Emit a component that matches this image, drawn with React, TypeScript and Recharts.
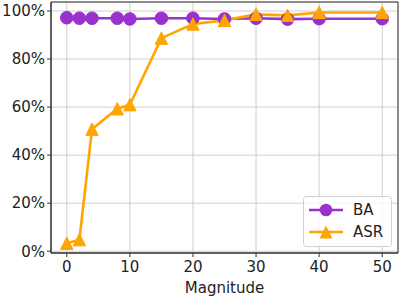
import React from "react";
import { LineChart, Line, XAxis, YAxis, CartesianGrid, ReferenceArea } from "recharts";

const magnitudes = [0, 2, 4, 8, 10, 15, 20, 25, 30, 35, 40, 50];
const baValues = [97.2, 97, 97, 97, 96.7, 97, 97, 96.7, 97, 96.6, 96.8, 96.8];
const asrValues = [3.3, 4.8, 50.8, 59.3, 61, 88.7, 94.6, 96.1, 98.6, 98.2, 99.4, 99.4];
const xTicks = [0, 10, 20, 30, 40, 50];
const yTicks = [0, 20, 40, 60, 80, 100];
const seriesNames = ["BA", "ASR"];

const data = magnitudes.map((m, i) => ({ m, BA: baValues[i], ASR: asrValues[i] }));

const PURPLE = "#9932CC";
const ORANGE = "#FFA500";
const FONT = "DejaVu Sans";

const Triangle = (props: any) => {
  const { cx, cy, key } = props;
  if (cx == null || cy == null) return null;
  const s = 6.2;
  return (
    <polygon
      key={key}
      points={`${cx},${cy - s} ${cx - s},${cy + s} ${cx + s},${cy + s}`}
      fill={ORANGE}
      stroke={ORANGE}
      strokeWidth={1}
    />
  );
};

const Circle = (props: any) => {
  const { cx, cy, key } = props;
  if (cx == null || cy == null) return null;
  return <circle key={key} cx={cx} cy={cy} r={6.3} fill={PURPLE} stroke={PURPLE} strokeWidth={1} />;
};

const LegendBox = () => (
  <svg width={90} height={52} style={{ display: "block" }}>
    <rect x={0.5} y={0.5} width={88} height={50} rx={3} fill="white" fillOpacity={0.8} stroke="#d0d0d0" />
    <line x1={6} y1={14} x2={40} y2={14} stroke={PURPLE} strokeWidth={2.5} />
    <circle cx={23} cy={14} r={6.3} fill={PURPLE} />
    <text x={50} y={14} dominantBaseline="central" fontFamily={FONT} fontSize={15} fill="#222">{seriesNames[0]}</text>
    <line x1={6} y1={36} x2={40} y2={36} stroke={ORANGE} strokeWidth={2.5} />
    <polygon points="23,29.5 16.5,42.5 29.5,42.5" fill={ORANGE} />
    <text x={50} y={36} dominantBaseline="central" fontFamily={FONT} fontSize={15} fill="#222">{seriesNames[1]}</text>
  </svg>
);

export default function App() {
  return (
    <div style={{ position: "absolute", left: 0, top: 0, width: 399, height: 296, background: "white" }}>
      <LineChart width={399} height={296} data={data} margin={{ top: 2, right: 1, bottom: 0, left: 0 }}>
        <CartesianGrid stroke="#cfcfcf" strokeWidth={1} />
        <XAxis
          dataKey="m"
          type="number"
          domain={[-2.5, 52.5]}
          ticks={xTicks}
          allowDataOverflow
          height={43}
          tickSize={4}
          tickLine={{ stroke: "#333" }}
          axisLine={{ stroke: "#333" }}
          tick={{ fontFamily: FONT, fontSize: 15, fill: "#222", dy: 2 }}
          label={{ value: "Magnitude", position: "insideBottom", offset: 3, fontFamily: FONT, fontSize: 15, fill: "#222" }}
        />
        <YAxis
          type="number"
          domain={[-0.75, 103.75]}
          ticks={yTicks}
          allowDataOverflow
          width={51}
          tickSize={4}
          tickLine={{ stroke: "#333" }}
          axisLine={{ stroke: "#333" }}
          tickFormatter={(v: number) => `${v}%`}
          tick={{ fontFamily: FONT, fontSize: 15, fill: "#222" }}
        />
        <ReferenceArea x1={-2.5} x2={52.5} y1={-0.75} y2={103.75} fill="none" stroke="#333" strokeWidth={1} />
        <Line dataKey="BA" stroke={PURPLE} strokeWidth={2.6} dot={Circle} isAnimationActive={false} />
        <Line dataKey="ASR" stroke={ORANGE} strokeWidth={2.6} dot={Triangle} isAnimationActive={false} />
      </LineChart>
      <div style={{ position: "absolute", left: 303, top: 196 }}>
        <LegendBox />
      </div>
    </div>
  );
}
